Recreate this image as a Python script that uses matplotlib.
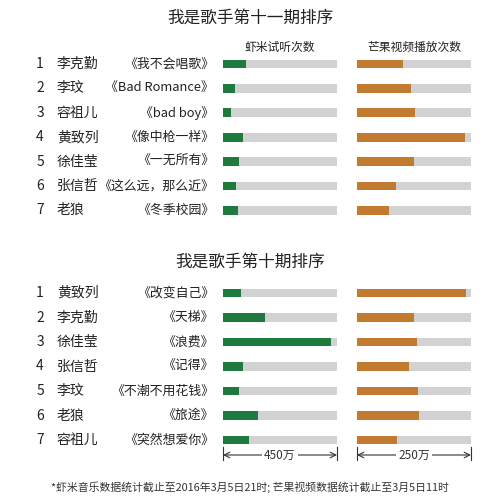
import matplotlib
matplotlib.use("Agg")
import matplotlib.pyplot as plt

plt.rcParams['font.family'] = ['Noto Sans CJK SC', 'DejaVu Sans']

# 数据（单位：万）
top_ranks = ["1", "2", "3", "4", "5", "6", "7"]
top_singers = ["李克勤", "李玟", "容祖儿", "黄致列", "徐佳莹", "张信哲", "老狼"]
top_songs = ["《我不会唱歌》", "《Bad Romance》", "《bad boy》", "《像中枪一样》",
             "《一无所有》", "《这么远，那么近》", "《冬季校园》"]
top_xiami = [91, 47, 32, 79, 63, 51, 59]
top_mango = [101, 118, 127, 237, 125, 86, 70]

bot_singers = ["黄致列", "李克勤", "徐佳莹", "张信哲", "李玟", "老狼", "容祖儿"]
bot_songs = ["《改变自己》", "《天梯》", "《浪费》", "《记得》",
             "《不潮不用花钱》", "《旅途》", "《突然想爱你》"]
bot_xiami = [71, 166, 426, 79, 63, 138, 103]
bot_mango = [239, 125, 132, 114, 134, 136, 88]

XIAMI_MAX, MANGO_MAX = 450, 250
GREEN, ORANGE, GRAY = '#1f7a3f', '#c17a30', '#d2d2d2'

W, H = 500, 501
fig = plt.figure(figsize=(W / 100, H / 100), dpi=100)

# 覆盖层：文字
ov = fig.add_axes([0, 0, 1, 1])
ov.set_xlim(0, W); ov.set_ylim(H, 0); ov.axis('off')


def px_axes(x0, x1, y0, y1):
    return fig.add_axes([x0 / W, 1 - y1 / H, (x1 - x0) / W, (y1 - y0) / H])


def panel(y_first, step, singers, songs, xiami, mango, title, y_title):
    ov.text(250, y_title, title, ha='center', va='center', fontsize=12, fontweight='medium', color='#222')
    for i, (s, g) in enumerate(zip(singers, songs)):
        y = y_first + i * step
        ov.text(40, y, top_ranks[i], ha='center', va='center', fontsize=10, color='#222')
        ov.text(57, y, s, ha='left', va='center', fontsize=10, color='#222')
        ov.text(214, y, g, ha='right', va='center', fontsize=9.3, color='#222')
    y0 = y_first - step / 2
    y1 = y_first + 6.5 * step
    for (x0, x1, vals, vmax, col) in [(223, 337, xiami, XIAMI_MAX, GREEN),
                                      (357, 471, mango, MANGO_MAX, ORANGE)]:
        ax = px_axes(x0, x1, y0, y1)
        pos = range(len(vals))
        ax.barh(pos, [vmax] * len(vals), height=0.36, color=GRAY)
        ax.barh(pos, vals, height=0.36, color=col)
        ax.set_xlim(0, vmax); ax.set_ylim(len(vals) - 0.5, -0.5)
        ax.axis('off')


ov.text(280, 47, "虾米试听次数", ha='center', va='center', fontsize=8.5, color='#222')
ov.text(414, 47, "芒果视频播放次数", ha='center', va='center', fontsize=8.5, color='#222')

panel(64, 24.4, top_singers, top_songs, top_xiami, top_mango, "我是歌手第十一期排序", 18)
panel(293, 24.5, bot_singers, bot_songs, bot_xiami, bot_mango, "我是歌手第十期排序", 262)

# 刻度说明
for x0, x1, lab in [(223, 337, "450万"), (357, 471, "250万")]:
    ov.annotate('', xy=(x0, 455), xytext=(x1, 455),
                arrowprops=dict(arrowstyle='<->', color='#333', lw=0.8, shrinkA=0, shrinkB=0))
    ov.plot([x0, x0], [447, 460], color='#333', lw=0.8)
    ov.plot([x1, x1], [447, 460], color='#333', lw=0.8)
    ov.text((x0 + x1) / 2, 455, lab, ha='center', va='center', fontsize=8.5, color='#333',
            bbox=dict(facecolor='white', edgecolor='none', pad=1.5))

ov.text(250, 487, "*虾米音乐数据统计截止至2016年3月5日21时; 芒果视频数据统计截止至3月5日11时",
        ha='center', va='center', fontsize=7.8, color='#333')

fig.savefig("out.png", dpi=100)
